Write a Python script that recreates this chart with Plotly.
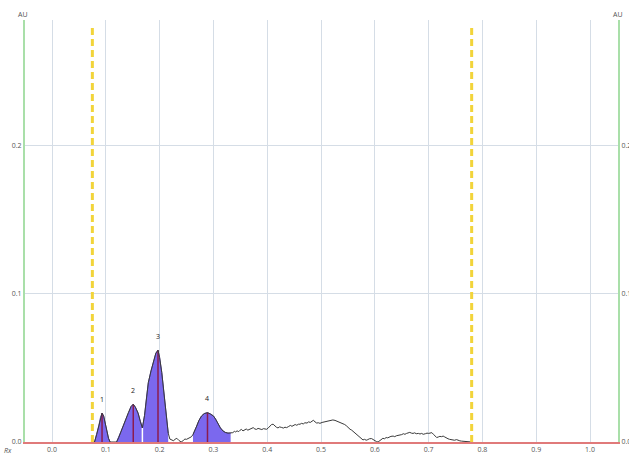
import numpy as np
import plotly.graph_objects as go

# Densitometric lane profile: migration distance (Rx) vs absorbance (AU)
rx = [
    0.075, 0.079, 0.083, 0.087, 0.090, 0.093, 0.096, 0.099, 0.102, 0.105, 0.108,
    0.114, 0.120, 0.124, 0.128, 0.1325, 0.137, 0.142, 0.147, 0.151, 0.155, 0.160,
    0.164, 0.168, 0.172, 0.176, 0.179, 0.184, 0.188, 0.193, 0.197, 0.200, 0.204,
    0.207, 0.210, 0.213, 0.216, 0.219, 0.222, 0.226, 0.229, 0.232, 0.236, 0.240,
    0.244, 0.247, 0.250, 0.253, 0.256, 0.259, 0.262, 0.265, 0.269, 0.273, 0.278,
    0.283, 0.289, 0.294, 0.300, 0.304, 0.309, 0.313, 0.318, 0.322, 0.327, 0.332,
    0.336, 0.339, 0.341, 0.344, 0.347, 0.349, 0.352, 0.355, 0.358, 0.361, 0.364,
    0.367, 0.370, 0.374, 0.377, 0.380, 0.383, 0.386, 0.390, 0.393, 0.396, 0.399,
    0.402, 0.405, 0.408, 0.411, 0.414, 0.417, 0.420, 0.423, 0.427, 0.430, 0.433,
    0.436, 0.440, 0.443, 0.446, 0.449, 0.452, 0.455, 0.458, 0.461, 0.464, 0.467,
    0.470, 0.474, 0.477, 0.480, 0.483, 0.486, 0.489, 0.492, 0.495, 0.498, 0.502,
    0.506, 0.510, 0.514, 0.518, 0.522, 0.526, 0.530, 0.534, 0.538, 0.541, 0.544,
    0.547, 0.550, 0.554, 0.557, 0.560, 0.563, 0.566, 0.569, 0.572, 0.575, 0.578,
    0.581, 0.584, 0.587, 0.590, 0.594, 0.597, 0.600, 0.603, 0.606, 0.609, 0.612,
    0.615, 0.618, 0.621, 0.624, 0.627, 0.630, 0.634, 0.637, 0.640, 0.644, 0.647,
    0.650, 0.653, 0.656, 0.659, 0.662, 0.665, 0.668, 0.671, 0.674, 0.677, 0.681,
    0.684, 0.687, 0.690, 0.694, 0.697, 0.700, 0.703, 0.706, 0.709, 0.712, 0.715,
    0.718, 0.721, 0.724, 0.727, 0.730, 0.733, 0.736, 0.739, 0.742, 0.745, 0.748,
    0.752, 0.755, 0.758, 0.761, 0.764, 0.767, 0.770, 0.780,
]
au = [
    0.0, 0.0, 0.005, 0.011, 0.0165, 0.0195, 0.0175, 0.012, 0.0065, 0.0025, 0.0,
    0.0, 0.0, 0.003, 0.007, 0.011, 0.015, 0.0199, 0.024, 0.0255, 0.0235, 0.0195,
    0.014, 0.0095, 0.018, 0.031, 0.040, 0.048, 0.0536, 0.060, 0.062, 0.057, 0.047,
    0.036, 0.024, 0.013, 0.006, 0.002, 0.0015, 0.0008, 0.002, 0.0025, 0.001, 0.0,
    0.001, 0.002, 0.0018, 0.0025, 0.003, 0.0035, 0.005, 0.008, 0.0108, 0.0145, 0.0176,
    0.0192, 0.0198, 0.019, 0.0176, 0.0155, 0.012, 0.0095, 0.0074, 0.0065, 0.006, 0.0059,
    0.0063, 0.0072, 0.0068, 0.0075, 0.0070, 0.0078, 0.0085, 0.0075, 0.0082, 0.0088, 0.0080,
    0.0086, 0.0092, 0.0097, 0.0088, 0.0085, 0.0092, 0.0088, 0.0084, 0.0090, 0.0086, 0.0086,
    0.0095, 0.0105, 0.0118, 0.0120, 0.0108, 0.0100, 0.0095, 0.0102, 0.0098, 0.0094, 0.0100,
    0.0097, 0.0105, 0.0112, 0.0106, 0.0112, 0.0118, 0.0113, 0.0120, 0.0120, 0.0126, 0.0122,
    0.0130, 0.0128, 0.0136, 0.0132, 0.0140, 0.0147, 0.0135, 0.0128, 0.0130, 0.0126, 0.0132,
    0.0136, 0.0140, 0.0145, 0.0147, 0.0149, 0.0146, 0.0140, 0.0134, 0.0128, 0.0126, 0.0118,
    0.0110, 0.0098, 0.0086, 0.0080, 0.0070, 0.0060, 0.0050, 0.0040, 0.0030, 0.0020, 0.0014,
    0.0018, 0.0012, 0.0016, 0.0022, 0.0023, 0.0015, 0.0008, 0.0003, 0.0, 0.0008, 0.0018,
    0.0025, 0.0022, 0.0030, 0.0028, 0.0035, 0.0038, 0.0040, 0.0036, 0.0042, 0.0045, 0.0045,
    0.0050, 0.0056, 0.0052, 0.0058, 0.0062, 0.0065, 0.0060, 0.0058, 0.0062, 0.0056, 0.0058,
    0.0054, 0.0058, 0.0052, 0.0056, 0.0060, 0.0058, 0.0062, 0.0063, 0.0052, 0.0040, 0.0030,
    0.0034, 0.0038, 0.0036, 0.0040, 0.0034, 0.0026, 0.0022, 0.0018, 0.0016, 0.0013, 0.0012,
    0.0016, 0.0010, 0.0008, 0.0006, 0.0005, 0.0002, 0.0, 0.0,
]

# Integrated peaks: start, end, apex position
peak_labels = ["1", "2", "3", "4"]
peak_start = [0.079, 0.120, 0.168, 0.262]
peak_end = [0.108, 0.168, 0.216, 0.332]
peak_apex = [0.093, 0.151, 0.197, 0.289]

# Application line and solvent front
front_lines = [0.075, 0.78]

x_ticks = [0.0, 0.1, 0.2, 0.3, 0.4, 0.5, 0.6, 0.7, 0.8, 0.9, 1.0]
y_ticks = [0.0, 0.1, 0.2]

rx_arr = np.array(rx)
au_arr = np.array(au)

FILL = "#7b68ee"
APEX = "#8b1c4e"
GREEN = "#a9dfa9"
GRID = "#d5dde6"
TXT = "#555555"
FONT = "Open Sans"

fig = go.Figure()

# Filled peak areas
for s, e in zip(peak_start, peak_end):
    m = (rx_arr >= s - 1e-9) & (rx_arr <= e + 1e-9)
    fig.add_trace(go.Scatter(
        x=rx_arr[m], y=au_arr[m], mode="lines", fill="tozeroy",
        fillcolor=FILL, line=dict(color="#5a48b8", width=1),
        hoverinfo="skip", showlegend=False,
    ))

# Boundary between the two touching peaks
fig.add_trace(go.Scatter(
    x=[peak_end[1], peak_end[1]], y=[0, float(np.interp(peak_end[1], rx_arr, au_arr))],
    mode="lines", line=dict(color="white", width=1.5),
    hoverinfo="skip", showlegend=False,
))

# Apex markers
for a in peak_apex:
    h = float(np.interp(a, rx_arr, au_arr))
    fig.add_trace(go.Scatter(
        x=[a, a], y=[0, h], mode="lines", line=dict(color=APEX, width=1.5),
        hoverinfo="skip", showlegend=False,
    ))

# Full lane profile
fig.add_trace(go.Scatter(
    x=rx, y=au, mode="lines", line=dict(color="#3a3a3a", width=1),
    showlegend=False,
))

# Invisible trace to bring up the right-hand axis
fig.add_trace(go.Scatter(x=[0], y=[0], yaxis="y2", mode="markers",
                         marker=dict(opacity=0), hoverinfo="skip", showlegend=False))

# Application line / solvent front
for fx in front_lines:
    fig.add_trace(go.Scatter(
        x=[fx, fx], y=[0, 0.28], mode="lines",
        line=dict(color="#f2d43a", width=3, dash="7px,4px"),
        hoverinfo="skip", showlegend=False,
    ))

# Peak numbers
for lab, a in zip(peak_labels, peak_apex):
    h = float(np.interp(a, rx_arr, au_arr))
    fig.add_annotation(x=a, y=h, text=lab, showarrow=False, yshift=14,
                       font=dict(size=7, color="#222222", family=FONT))

label_font = dict(size=7, color=TXT, family=FONT)
fig.add_annotation(xref="paper", yref="paper", x=-0.003, y=1.0, yshift=6,
                   xanchor="center", yanchor="middle",
                   text="AU", showarrow=False, font=label_font)
fig.add_annotation(xref="paper", yref="paper", x=1.0, y=1.0, yshift=6,
                   xanchor="center", yanchor="middle",
                   text="AU", showarrow=False, font=label_font)
fig.add_annotation(xref="paper", yref="paper", x=-0.029, y=0.0, yshift=-8,
                   xanchor="center", yanchor="middle",
                   text="<i>Rx</i>", showarrow=False, font=label_font)

tick_font = dict(size=7, color=TXT, family=FONT)
yr = [0, 0.285]
fig.update_layout(
    template="none",
    width=629, height=454,
    margin=dict(l=25, r=11, t=20, b=12),
    paper_bgcolor="white", plot_bgcolor="white",
    font=dict(family=FONT, size=7, color=TXT),
    xaxis=dict(
        range=[-0.0502, 1.052], tickvals=x_ticks,
        ticktext=[f"{v:.1f}" for v in x_ticks], tickfont=tick_font,
        showgrid=True, gridcolor=GRID, gridwidth=1,
        zeroline=False, showline=True, linecolor="#e07a7a", linewidth=1.5,
        ticks="", automargin=False,
    ),
    yaxis=dict(
        range=yr, tickvals=y_ticks, ticktext=[f"{v:.1f}" for v in y_ticks],
        tickfont=tick_font,
        showgrid=True, gridcolor=GRID, gridwidth=1, zeroline=False,
        showline=True, linecolor=GREEN, linewidth=2, ticks="", automargin=False,
    ),
    yaxis2=dict(
        range=yr, tickvals=y_ticks, ticktext=[f"{v:.1f}" for v in y_ticks],
        tickfont=tick_font,
        overlaying="y", side="right", showgrid=False, zeroline=False,
        showline=True, linecolor=GREEN, linewidth=2, ticks="", automargin=False,
    ),
)

fig.write_html("out.html")
